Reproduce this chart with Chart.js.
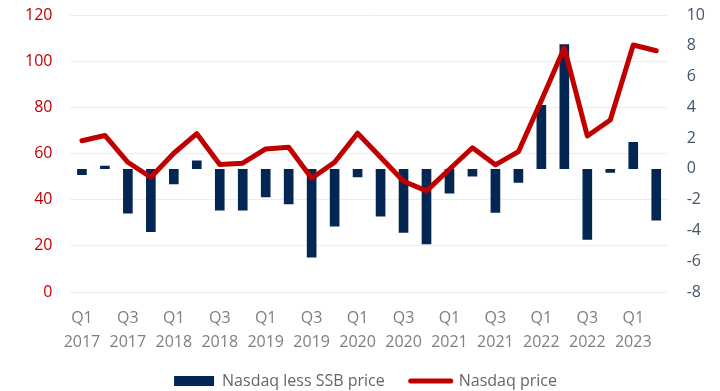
<!DOCTYPE html>
<html>
<head>
<meta charset="utf-8">
<script src="https://cdn.jsdelivr.net/npm/chart.js@4/dist/chart.umd.min.js"></script>
<style>
  html, body { margin: 0; padding: 0; background: #ffffff; }
  #wrap { width: 720px; height: 391px; position: relative; }
</style>
</head>
<body>
<div id="wrap"><canvas id="chart"></canvas></div>
<script>
// Quarterly periods, Q1 2017 to Q2 2023
const years = [2017, 2018, 2019, 2020, 2021, 2022, 2023];
const quarters = ['Q1', 'Q2', 'Q3', 'Q4'];
const periodCount = 26;

// Nasdaq price (left axis)
const nasdaqPrice = [65.5, 67.8, 56.2, 49.7, 60.1, 68.6, 55.2, 55.8, 62.0, 62.7,
                     49.3, 56.2, 68.8, 58.4, 48.0, 43.8, 53.2, 62.5, 55.1, 60.8,
                     83.0, 105.8, 67.6, 74.5, 107.0, 104.5];

// Nasdaq less SSB price (right axis)
const nasdaqLessSsb = [-0.4, 0.2, -2.9, -4.1, -1.0, 0.55, -2.7, -2.7, -1.85, -2.3,
                       -5.75, -3.75, -0.55, -3.1, -4.15, -4.9, -1.6, -0.5, -2.85, -0.9,
                       4.15, 8.1, -4.6, -0.25, 1.75, -3.35];

// Axis ranges
const leftTicks = { min: 0, max: 120, step: 20 };
const rightTicks = { min: -8, max: 10, step: 2 };

const labels = [];
for (let i = 0; i < periodCount; i++) {
  labels.push([quarters[i % 4], String(years[Math.floor(i / 4)])]);
}

const RED = '#C00000';
const NAVY = '#042653';
const FONT = "'Open Sans', 'Liberation Sans', sans-serif";

// vertical axes: no extra room reserved above/below the plot for end labels
function trimVerticalPadding(scale) {
  scale.paddingTop = 0;
  scale.paddingBottom = 0;
}

new Chart(document.getElementById('chart'), {
  type: 'bar',
  data: {
    labels: labels,
    datasets: [
      {
        type: 'line',
        label: 'Nasdaq price',
        data: nasdaqPrice,
        yAxisID: 'yLeft',
        borderColor: RED,
        backgroundColor: RED,
        borderWidth: 5,
        pointRadius: 0,
        pointHoverRadius: 0,
        tension: 0,
        borderJoinStyle: 'round',
        borderCapStyle: 'round'
      },
      {
        type: 'bar',
        label: 'Nasdaq less SSB price',
        data: nasdaqLessSsb,
        yAxisID: 'yRight',
        backgroundColor: NAVY,
        borderWidth: 0,
        barPercentage: 0.42,
        categoryPercentage: 1.0
      }
    ]
  },
  options: {
    responsive: true,
    maintainAspectRatio: false,
    animation: false,
    layout: { padding: { left: 7, right: -4, top: 15, bottom: -8 } },
    plugins: {
      tooltip: { enabled: false },
      legend: {
        position: 'bottom',
        labels: {
          font: { family: FONT, size: 16 },
          color: '#666666',
          usePointStyle: true,
          pointStyleWidth: 40,
          boxHeight: 10,
          padding: 26,
          generateLabels: function () {
            return [
              { text: 'Nasdaq less SSB price', fillStyle: NAVY, strokeStyle: NAVY,
                lineWidth: 0, pointStyle: 'rect', datasetIndex: 1, fontColor: '#666666' },
              { text: 'Nasdaq price', fillStyle: RED, strokeStyle: RED,
                lineWidth: 5, lineCap: 'round', pointStyle: 'line', datasetIndex: 0, fontColor: '#666666' }
            ];
          }
        }
      }
    },
    scales: {
      x: {
        offset: true,
        grid: { display: false, drawTicks: false },
        border: { display: false },
        afterFit: function (scale) { scale.height = 55; },
        ticks: {
          autoSkip: false,
          maxRotation: 0,
          minRotation: 0,
          padding: 14,
          color: '#7F7F7F',
          font: { family: FONT, size: 16, lineHeight: 1.5 },
          callback: function (value, index) {
            return index % 2 === 0 ? this.getLabelForValue(value) : '';
          }
        }
      },
      yLeft: {
        position: 'left',
        min: leftTicks.min,
        max: leftTicks.max,
        afterFit: trimVerticalPadding,
        ticks: {
          stepSize: leftTicks.step,
          padding: 18,
          color: RED,
          font: { family: FONT, size: 16 }
        },
        grid: { color: '#EDEDED', lineWidth: 1, drawTicks: false },
        border: { display: false }
      },
      yRight: {
        position: 'right',
        min: rightTicks.min,
        max: rightTicks.max,
        afterFit: trimVerticalPadding,
        ticks: {
          stepSize: rightTicks.step,
          padding: 19,
          color: '#44546A',
          font: { family: FONT, size: 16 }
        },
        grid: { display: false, drawTicks: false },
        border: { display: false }
      }
    }
  }
});
</script>
</body>
</html>
